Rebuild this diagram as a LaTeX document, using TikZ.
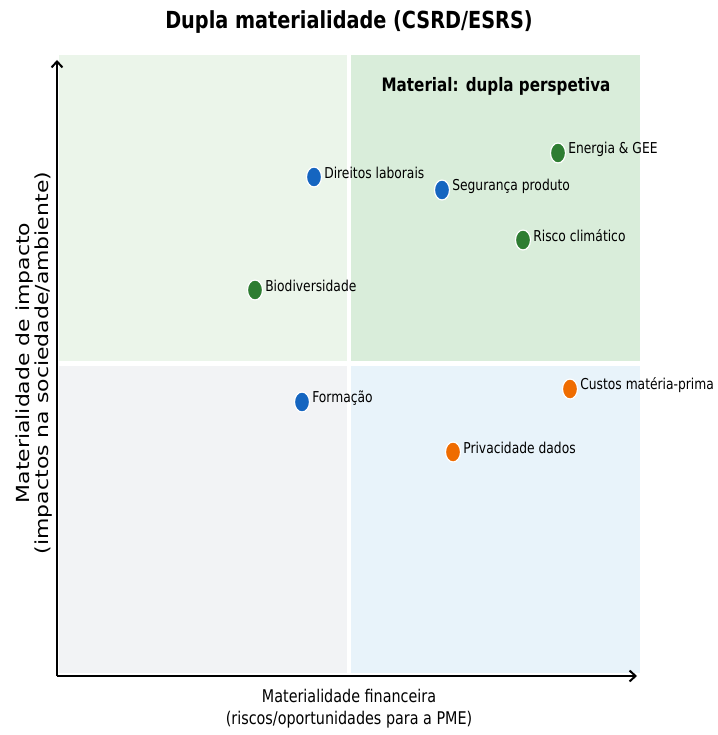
\documentclass[tikz,border=0pt]{standalone}
\usepackage{fontspec}
\setmainfont{DejaVu Sans}[FakeStretch=0.82]
\newfontfamily\ylabfont{DejaVu Sans}[FakeStretch=1.22]
\usetikzlibrary{positioning,arrows.meta,shapes.geometric}

\definecolor{qgreenlt}{HTML}{EBF5EA}
\definecolor{qgreen}{HTML}{D9EDDA}
\definecolor{qgray}{HTML}{F2F3F5}
\definecolor{qblue}{HTML}{E8F3FA}
\definecolor{ptgreen}{HTML}{2E7D32}
\definecolor{ptblue}{HTML}{1565C0}
\definecolor{ptorange}{HTML}{EF6C00}

\begin{document}
\begin{tikzpicture}[
  x=1pt, y=-1pt,
  dot/.style={ellipse, draw=white, line width=1.2pt, fill=#1, minimum width=15pt, minimum height=20pt, inner sep=0pt},
  lbl/.style={font=\fontsize{15}{18}\selectfont, inner sep=1pt, anchor=west, yshift=4pt},
  axis/.style={line width=2.2pt, -{Straight Barb[length=6pt,width=11pt,line width=2pt]}}
  ]
\useasboundingbox (0,0) rectangle (717,735);

% quadrants
\fill[qgreenlt] (59,55) rectangle (347,361);
\fill[qgreen] (351,55) rectangle (640,361);
\fill[qgray] (59,366) rectangle (347,673);
\fill[qblue] (351,366) rectangle (640,673);

% title
\node[font=\fontsize{23.5}{28}\selectfont\bfseries] (title) at (349,22) {Dupla materialidade (CSRD/ESRS)};
\node[font=\fontsize{18.5}{22}\selectfont\bfseries] (corner) at (496,86) {Material: dupla perspetiva};

% axes
\coordinate (origin) at (57,676);
\coordinate (ytop) at (57,60);
\coordinate (xend) at (637,676);
\draw[axis] (origin) -- (ytop);
\draw[axis] (origin) -- (xend);

\node[font=\fontsize{17.5}{22}\selectfont, align=center] (xlab) at (349,709)
  {Materialidade financeira\\(riscos/oportunidades para a PME)};
\node[font=\ylabfont\fontsize{18}{15}\selectfont, align=center, rotate=90] (ylab) at (34,363)
  {Materialidade de impacto\\(impactos na sociedade/ambiente)};

% points
\node[dot=ptgreen] (energia) at (558,153) {};
\node[lbl, right=1pt of energia] (energialbl) {Energia \& GEE};

\node[dot=ptblue] (direitos) at (314,177) {};
\node[lbl, right=1pt of direitos] (direitoslbl) {Direitos laborais};

\node[dot=ptblue] (seguranca) at (442,190) {};
\node[lbl, right=1pt of seguranca] (segurancalbl) {Segurança produto};

\node[dot=ptgreen] (risco) at (523,240) {};
\node[lbl, right=1pt of risco] (riscolbl) {Risco climático};

\node[dot=ptgreen] (biodiv) at (255,290) {};
\node[lbl, right=1pt of biodiv] (biodivlbl) {Biodiversidade};

\node[dot=ptblue] (formacao) at (302,402) {};
\node[lbl, right=1pt of formacao] (formacaolbl) {Formação};

\node[dot=ptorange] (custos) at (570,389) {};
\node[lbl, right=1pt of custos] (custoslbl) {Custos matéria-prima};

\node[dot=ptorange] (privacidade) at (453,452) {};
\node[lbl, right=1pt of privacidade] (privacidadelbl) {Privacidade dados};
\end{tikzpicture}
\end{document}
